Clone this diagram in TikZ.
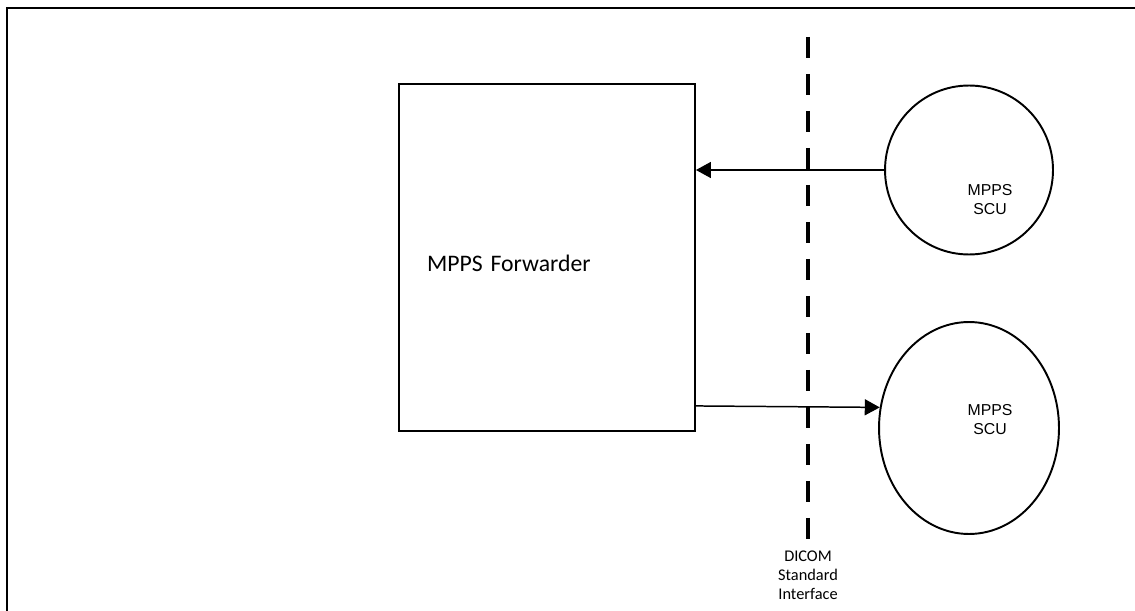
\documentclass[tikz,border=0pt]{standalone}
\usepackage{fontspec}
\setmainfont{Carlito}
\newfontfamily\arialfont{Liberation Sans}
\usetikzlibrary{shapes.geometric, arrows.meta, calc, positioning}
\tikzstyle{frameline} = [line width=1.7pt, draw=black]
\tikzstyle{forwarder} = [rectangle, minimum width=5.92cm, minimum height=6.94cm, text width=4.8cm, text height=0.56cm, inner xsep=0.56cm, align=left, draw=black, line width=1.1pt, font=\fontsize{13.5}{15}\selectfont]
\tikzstyle{scu} = [ellipse, minimum width=3.36cm, minimum height=3.38cm, inner sep=0pt, draw=black, line width=1.1pt]
\tikzstyle{scutext} = [align=center, font=\arialfont\fontsize{9}{10.8}\selectfont]
\tikzstyle{iface} = [line width=2.6pt, dash pattern=on 0.42cm off 0.32cm]
\tikzstyle{ifacetext} = [align=center, inner sep=0pt, font=\fontsize{9.3}{10.6}\selectfont]
\tikzstyle{arrow} = [line width=0.85pt, -{Triangle[length=0.3cm, width=0.32cm]}]

\begin{document}
\begin{tikzpicture}[x=0.02cm, y=-0.02cm, node distance=1cm]
\useasboundingbox (0,0) rectangle (1135,611);

% open frame
\draw [frameline] (1135,8) -- (7,8) -- (7,611);

\node (fwd) [forwarder] at (547,257.5) {MPPS Forwarder};
\node (scu1) [scu] at (969,170) {};
\node (scu2) [scu, minimum width=3.6cm, minimum height=4.24cm] at (969,428) {};
\node (scu1text) [scutext] at ($(scu1)+(21,30)$) {MPPS\\SCU};
\node (scu2text) [scutext] at ($(scu2)+(21,-8)$) {MPPS\\SCU};

% interface line
\coordinate (ifacetop) at (808,37);
\coordinate (ifacebot) at (808,548);
\draw [iface] (ifacetop) -- (ifacebot);
\node (ifacelabel) [ifacetext, below=0.06cm of ifacebot] {DICOM\\Standard\\Interface};

\draw [arrow] (scu1.west) -- (scu1.west -| fwd.east);
\draw [arrow] ([yshift=0.52cm]fwd.south east) -- (scu2.167);

\end{tikzpicture}
\end{document}
